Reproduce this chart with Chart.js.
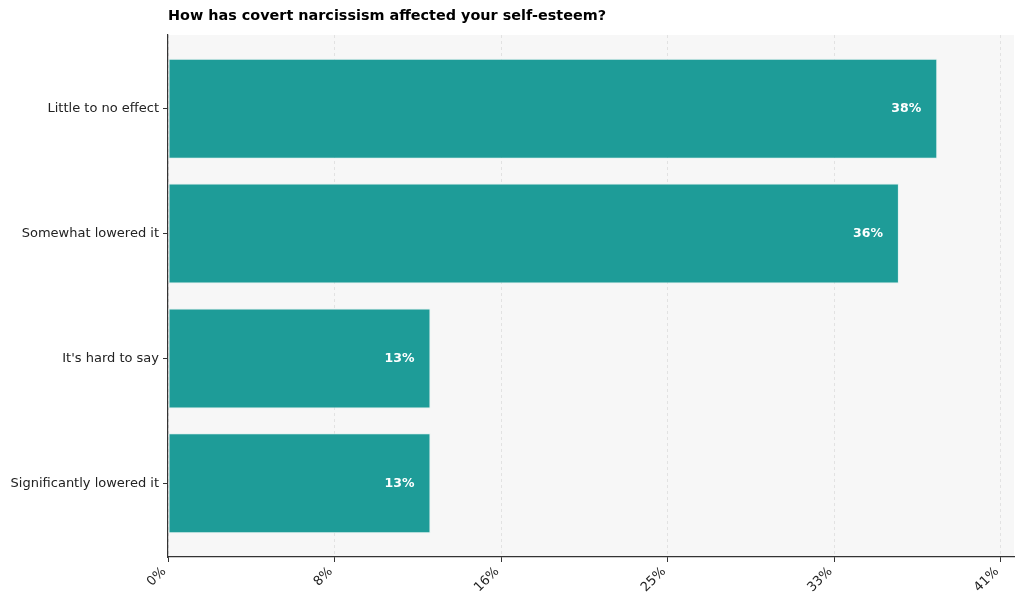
<!DOCTYPE html>
<html>
<head>
<meta charset="utf-8">
<script src="https://cdn.jsdelivr.net/npm/chart.js@4/dist/chart.umd.min.js"></script>
<style>
  html, body { margin: 0; padding: 0; background: #ffffff; }
  #wrap { width: 1024px; height: 610px; }
</style>
</head>
<body>
<div id="wrap"><canvas id="grafico" width="1024" height="610"></canvas></div>
<script>
// data
const categorias = ['Little to no effect', 'Somewhat lowered it', "It's hard to say", 'Significantly lowered it'];
const valores = [38.1, 36.2, 13.0, 13.0];
const rotulos = ['38%', '36%', '13%', '13%'];
const tickValores = [0, 8.25, 16.5, 24.75, 33, 41.25];
const tickRotulos = ['0%', '8%', '16%', '25%', '33%', '41%'];
const titulo = 'How has covert narcissism affected your self-esteem?';

const FONTE = '"DejaVu Sans", sans-serif';

// fundo cinza da área do gráfico
const fundoPlugin = {
  id: 'fundo',
  beforeDraw(chart) {
    const { ctx, chartArea: a } = chart;
    ctx.save();
    ctx.fillStyle = '#f7f7f7';
    ctx.fillRect(a.left, a.top, a.right - a.left, a.bottom - a.top);
    ctx.restore();
  }
};

// rótulos de valor dentro das barras + título
const rotulosPlugin = {
  id: 'rotulos',
  afterDatasetsDraw(chart) {
    const { ctx } = chart;
    const meta = chart.getDatasetMeta(0);
    ctx.save();
    ctx.fillStyle = '#ffffff';
    ctx.font = 'bold 12.5px ' + FONTE;
    ctx.textAlign = 'right';
    ctx.textBaseline = 'middle';
    meta.data.forEach((bar, i) => {
      ctx.fillText(rotulos[i], bar.x - 16, bar.y);
    });
    ctx.restore();
  },
  afterDraw(chart) {
    const { ctx, chartArea: a } = chart;
    ctx.save();
    ctx.fillStyle = '#000000';
    ctx.font = 'bold 14.4px ' + FONTE;
    ctx.textAlign = 'left';
    ctx.textBaseline = 'middle';
    ctx.fillText(titulo, a.left, 16);
    ctx.restore();
  }
};

new Chart(document.getElementById('grafico'), {
  type: 'bar',
  data: {
    datasets: [{
      data: valores.map((v, i) => ({ x: v, y: i })),
      backgroundColor: '#1e9c98',
      borderColor: 'rgba(220,240,238,0.8)',
      borderWidth: 1,
      borderSkipped: false,
      categoryPercentage: 0.8,
      barPercentage: 1.0
    }]
  },
  options: {
    indexAxis: 'y',
    responsive: false,
    animation: false,
    layout: { padding: { top: 35, right: 10, left: 0, bottom: 0 } },
    plugins: {
      legend: { display: false },
      tooltip: { enabled: false }
    },
    scales: {
      x: {
        type: 'linear',
        min: 0,
        max: 41.9,
        afterBuildTicks(scale) {
          scale.ticks = tickValores.map(v => ({ value: v }));
        },
        afterFit(scale) { scale.height = 53; },
        ticks: {
          color: '#222222',
          font: { family: FONTE, size: 13 },
          minRotation: 45,
          maxRotation: 45,
          padding: 2,
          labelOffset: -4,
          callback(value, index) { return tickRotulos[index]; }
        },
        grid: {
          color: '#e2e2e2',
          tickColor: '#333333',
          tickLength: 5,
          lineWidth: 1
        },
        border: { display: true, color: '#333333', width: 1.2, dash: [3, 3] }
      },
      y: {
        type: 'linear',
        offset: false,
        reverse: true,
        min: -0.59,
        max: 3.59,
        afterBuildTicks(scale) {
          scale.ticks = categorias.map((c, i) => ({ value: i }));
        },
        afterFit(scale) { scale.width = 168; },
        ticks: {
          color: '#222222',
          font: { family: FONTE, size: 13 },
          padding: 4,
          callback(value) { return categorias[value]; }
        },
        grid: {
          display: true,
          offset: false,
          drawOnChartArea: false,
          tickColor: '#333333',
          tickLength: 5
        },
        border: { display: true, color: '#333333', width: 1.2 }
      }
    }
  },
  plugins: [fundoPlugin, rotulosPlugin]
});
</script>
</body>
</html>
